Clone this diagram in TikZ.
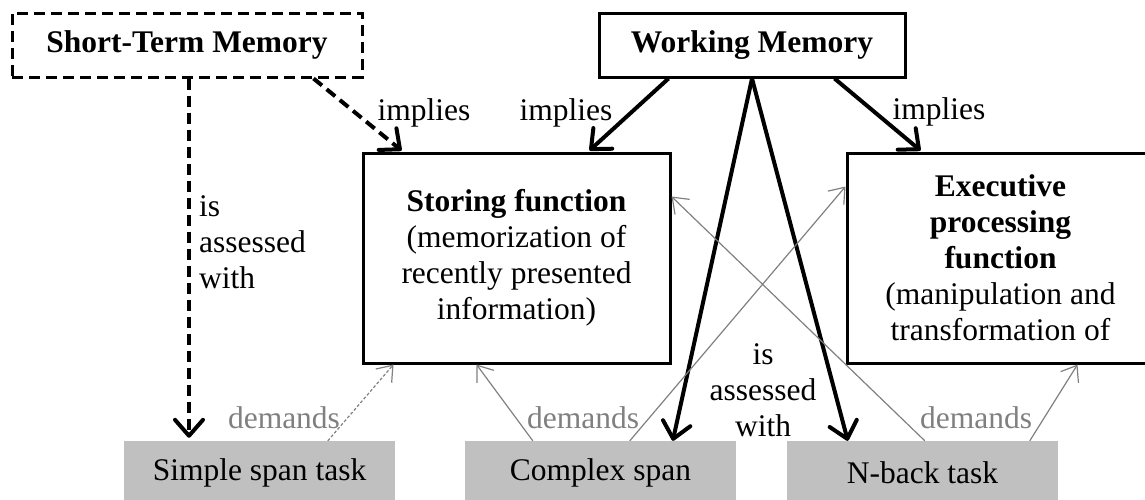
\documentclass[tikz,border=0pt]{standalone}
\usepackage{fontspec}
\setmainfont{Liberation Serif}
\usetikzlibrary{arrows.meta,calc}
\definecolor{taskgray}{RGB}{192,192,192}
\definecolor{linegray}{RGB}{128,128,128}
\tikzset{
  topbox/.style={draw, line width=3pt, inner sep=0pt, minimum height=64pt, align=center},
  stmstyle/.style={dash pattern=on 11pt off 6pt},
  fnbox/.style={draw, line width=3pt, inner sep=0pt, minimum width=307pt, minimum height=210pt, align=center},
  task/.style={fill=taskgray, inner sep=0pt, minimum width=271pt, minimum height=64pt},
  solidarrow/.style={line width=4pt, -{Straight Barb[length=16pt,width=28pt,line width=4pt,round]}},
  dashedarrow/.style={line width=4pt, dash pattern=on 11pt off 6pt, -{Straight Barb[length=16pt,width=28pt,line width=4pt,round]}},
  grayarrow/.style={draw=linegray, line width=1.2pt, -{Straight Barb[length=14pt,width=21pt,line width=1.2pt]}},
  lbl/.style={inner sep=0pt},
  graylbl/.style={inner sep=0pt, text=linegray}
}
\begin{document}
\begin{tikzpicture}[x=1pt,y=-1pt,font=\fontsize{31.5}{36}\selectfont]
\clip (0,0) rectangle (1145,499);
% top boxes
\node[topbox, stmstyle, minimum width=350pt] (stm) at (187,45) {\textbf{Short-Term Memory}};
\node[topbox, minimum width=306pt] (wm) at (752,45) {\textbf{Working Memory}};
% function boxes
\node[fnbox] (store) at (516.5,258) {\textbf{Storing function}\\(memorization of\\recently presented\\information)};
\node[fnbox] (exec) at (1000.5,258) {\textbf{Executive}\\\textbf{processing}\\\textbf{function}\\(manipulation and\\transformation of};
% tasks
\node[task] (simple) at (259.5,473) {Simple span task};
\node[task] (complex) at (600.5,473) {Complex span};
\node[task] (nback) at (922.5,473) {N-back task};
% black connectors
\draw[dashedarrow, shorten >=3pt] ([xshift=2pt]stm.south) -- ([xshift=2pt]stm.south |- simple.north);
\draw[dashedarrow] ([xshift=-50pt]stm.south east) -- ([xshift=40pt,yshift=1pt]store.north west);
\draw[solidarrow] ([xshift=71pt]wm.south west) -- ([xshift=-82pt,yshift=1pt]store.north east);
\draw[solidarrow] ([xshift=-72pt]wm.south east) -- ([xshift=75pt,yshift=1pt]exec.north west);
\draw[solidarrow] (wm.south) -- ([xshift=208pt]complex.north west);
\draw[solidarrow] (wm.south) -- ([xshift=61pt]nback.north west);
% gray connectors
\draw[grayarrow, dash pattern=on 3pt off 2pt] ([xshift=204pt]simple.north west) -- ([xshift=32pt]store.south west);
\draw[grayarrow] ([xshift=68pt]complex.north west) -- ([xshift=115pt]store.south west);
\draw[grayarrow] ([xshift=165pt]complex.north west) -- ([yshift=-35pt]exec.north west);
\draw[grayarrow] ([xshift=138pt]nback.north west) -- ([yshift=-45pt]store.north east);
\draw[grayarrow] ([xshift=243pt]nback.north west) -- ([xshift=232pt]exec.south west);
% labels
\node[lbl] (imp1) at (424,113) {implies};
\node[lbl] (imp2) at (566,113) {implies};
\node[lbl] (imp3) at (939,112) {implies};
\node[lbl, anchor=west, align=left] (ia1) at (199,242) {is\\assessed\\with};
\node[lbl, align=center] (ia2) at (763,390) {is\\assessed\\with};
\node[graylbl] (d1) at (284,418) {demands};
\node[graylbl] (d2) at (583,418) {demands};
\node[graylbl] (d3) at (976,418) {demands};
\end{tikzpicture}
\end{document}
